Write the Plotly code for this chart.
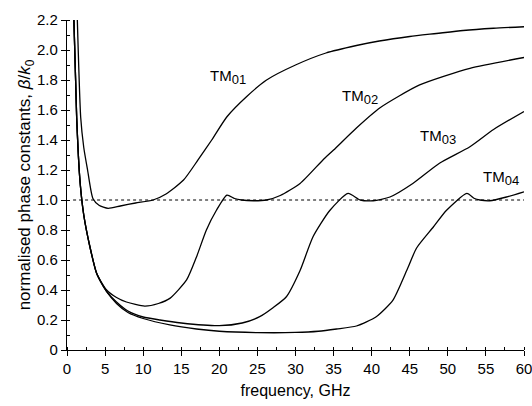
import plotly.graph_objects as go

# ---- data ----
tm01_x = [1.3, 1.8, 2.2, 2.7, 3.4, 4.2, 5.4, 7.0, 9.0, 11.3, 13.0, 15.3, 17.2, 19.0, 21.0,
          23.6, 26.2, 30.0, 34.0, 38.0, 41.0, 45.0, 48.5, 52.0, 56.0, 60.0]
tm01_y = [2.30, 1.55, 1.35, 1.20, 1.01, 0.965, 0.944, 0.96, 0.98, 1.00, 1.04, 1.133, 1.267, 1.40, 1.555,
          1.69, 1.80, 1.90, 1.98, 2.03, 2.06, 2.09, 2.11, 2.13, 2.145, 2.155]

tm02_x = [0.85, 1.27, 1.7, 2.2, 3.0, 3.9, 5.2, 6.5, 7.8, 10.2, 12.0, 13.5, 15.7, 17.0, 18.3,
          19.6, 21.0, 22.0, 22.9, 24.5, 26.2, 28.0, 30.6, 33.6, 35.0, 38.0, 41.1, 46.3, 52.9, 60.0]
tm02_y = [2.30, 1.55, 1.13, 0.90, 0.69, 0.51, 0.40, 0.35, 0.32, 0.293, 0.31, 0.344, 0.467, 0.62, 0.80,
          0.93, 1.033, 1.01, 1.00, 0.995, 1.00, 1.03, 1.11, 1.267, 1.333, 1.48, 1.615, 1.767, 1.878, 1.95]

tm03_x = [0.85, 1.27, 1.7, 2.2, 3.0, 3.9, 5.2, 6.5, 8.0, 10.0, 12.2, 15.0, 20.0, 23.0, 25.3,
          27.0, 28.8, 30.6, 32.3, 34.5, 36.9, 38.5, 40.2, 42.4, 45.4, 48.9, 52.9, 56.0, 60.0]
tm03_y = [2.30, 1.55, 1.13, 0.90, 0.69, 0.51, 0.39, 0.32, 0.26, 0.22, 0.20, 0.18, 0.162, 0.18, 0.222,
          0.28, 0.355, 0.53, 0.755, 0.93, 1.044, 1.00, 0.995, 1.02, 1.11, 1.245, 1.355, 1.47, 1.59]

tm04_x = [0.85, 1.27, 1.7, 2.2, 3.0, 3.9, 5.2, 6.5, 8.0, 10.0, 13.5, 17.0, 20.0, 25.0, 30.0,
          33.0, 35.4, 38.0, 40.6, 42.8, 44.6, 45.9, 48.1, 49.8, 52.5, 53.5, 54.2, 55.5, 57.7, 60.0]
tm04_y = [2.30, 1.55, 1.13, 0.90, 0.69, 0.51, 0.39, 0.31, 0.25, 0.21, 0.167, 0.14, 0.125, 0.116, 0.117,
          0.125, 0.14, 0.16, 0.222, 0.333, 0.53, 0.68, 0.82, 0.93, 1.044, 1.01, 1.00, 0.995, 1.02, 1.055]

ref_x = [0.8, 60.0]
ref_y = [1.0, 1.0]

x_ticks = [0, 5, 10, 15, 20, 25, 30, 35, 40, 45, 50, 55, 60]
y_ticks = [0, 0.2, 0.4, 0.6, 0.8, 1.0, 1.2, 1.4, 1.6, 1.8, 2.0, 2.2]
y_ticktext = ["0", "0.2", "0.4", "0.6", "0.8", "1.0", "1.2", "1.4", "1.6", "1.8", "2.0", "2.2"]

label_main = ["TM", "TM", "TM", "TM"]
label_sub = ["01", "02", "03", "04"]
label_x = [18.5, 35.9, 46.1, 54.3]
label_y = [1.817, 1.69, 1.417, 1.15]

FONT = "Liberation Sans, Arial, sans-serif"

fig = go.Figure()
fig.add_trace(go.Scatter(x=ref_x, y=ref_y, mode="lines",
                         line=dict(color="black", width=1, dash="dot"), showlegend=False))
for xs, ys in [(tm01_x, tm01_y), (tm02_x, tm02_y), (tm03_x, tm03_y), (tm04_x, tm04_y)]:
    fig.add_trace(go.Scatter(x=xs, y=ys, mode="lines",
                             line=dict(color="black", width=1.3, shape="spline", smoothing=0.6),
                             showlegend=False))

for m, s, lx, ly in zip(label_main, label_sub, label_x, label_y):
    fig.add_annotation(x=lx, y=ly,
                       text=m + "<sub><span style='font-size:13px'>" + s + "</span></sub>",
                       showarrow=False, xanchor="left", yanchor="middle",
                       font=dict(family=FONT, size=15, color="black"))

fig.update_layout(
    width=532, height=406,
    margin=dict(l=67, r=8, t=20, b=56),
    paper_bgcolor="white", plot_bgcolor="white",
    font=dict(family=FONT, size=15, color="black"),
    xaxis=dict(range=[0, 60], tickvals=x_ticks, ticks="outside", ticklen=5, tickwidth=1,
               tickcolor="black", showline=True, linecolor="black", linewidth=1.3,
               showgrid=False, zeroline=False, automargin=False, ticklabeloverflow="allow",
               tickfont=dict(size=15),
               minor=dict(dtick=2.5, tick0=0, ticks="inside", ticklen=3, tickcolor="black"),
               title=dict(text="frequency, GHz", font=dict(size=16), standoff=8)),
    yaxis=dict(range=[0, 2.2], tickvals=y_ticks, ticktext=y_ticktext, ticks="outside", ticklen=5,
               tickwidth=1, tickcolor="black", showline=True, linecolor="black", linewidth=1.3,
               showgrid=False, zeroline=False, automargin=False, ticklabeloverflow="allow",
               tickfont=dict(size=15),
               minor=dict(dtick=0.1, tick0=0, ticks="inside", ticklen=3, tickcolor="black"),
               title=dict(text="normalised phase constants, <i>β</i>/<i>k</i><sub>0</sub>",
                          font=dict(size=17), standoff=1)),
)

fig.write_html("out.html")
